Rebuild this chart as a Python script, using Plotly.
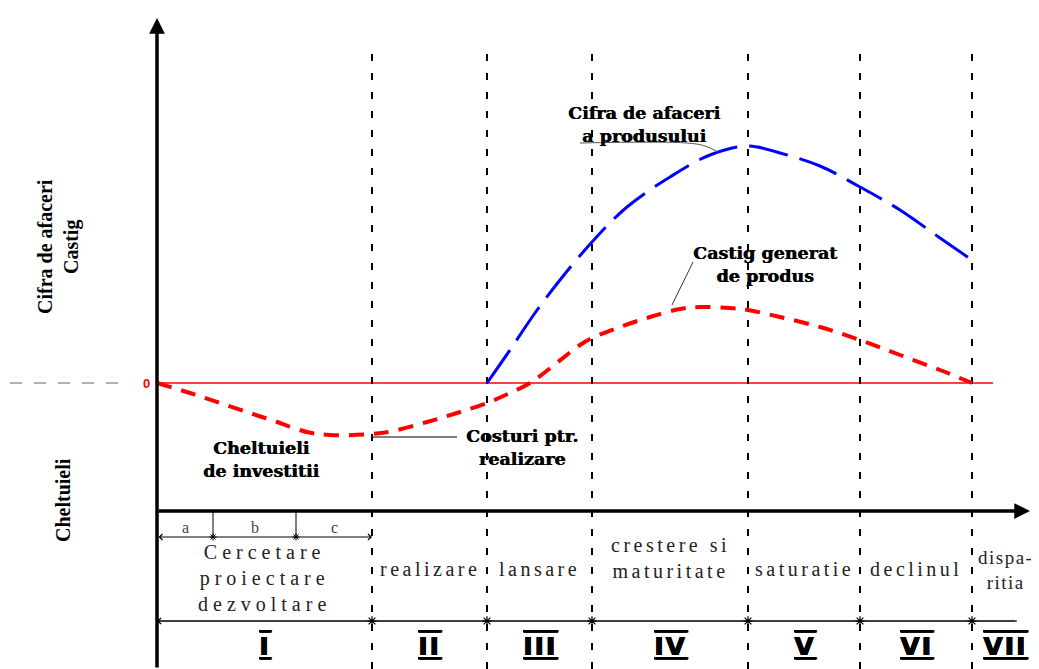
import plotly.graph_objects as go

# ---------------- data (x: time units from origin, y: value units, 0 = break-even) -------------
phase_bounds = [0, 215, 330, 435, 591, 703, 815]
phase_end = 880
sub_bounds = [56, 139]
sub_labels = ["a", "b", "c"]
phase_names = ["Cercetare<br>proiectare<br>dezvoltare", "realizare", "lansare",
               "crestere si<br>maturitate", "saturatie", "declinul", "dispa-<br>ritia"]
roman = ["I", "II", "III", "IV", "V", "VI", "VII"]

# Cifra de afaceri a produsului (blue)
ca_x = [330, 353, 378, 403, 435, 470, 513, 553, 591, 623, 663, 703, 743, 783, 815]
ca_y = [0, 33, 70, 103, 141, 176, 206, 228, 237, 230, 217, 196, 173, 145, 123]

# Castig / cheltuieli (red)
cg_x = [0, 33, 63, 93, 120, 150, 173, 215, 236, 270, 300, 330, 353, 373, 423, 435,
        463, 493, 523, 543, 573, 591, 623, 663, 703, 743, 783, 815]
cg_y = [0, -10, -20, -30, -39, -49, -52, -51, -48, -39, -30, -20, -10, 0, 38, 45,
        56, 66, 74, 76, 75, 73, 66, 56, 43, 28, 13, 0]

# ---------------- layout constants ----------------
# page body has an 8px margin: plot area starts at (8, 8) in the window
X0, X1 = -149, 882
Y0, Y1 = -286, 375
Y_AXIS_TOP = 365
X_AXIS_Y = -128
X_AXIS_END = 873
SUB_Y = -154
PHASE_LINE_Y = -238
PHASE_LINE_END = 860
VLINE_TOP = 336
ZERO_END = 836

SERIF_B = "DejaVu Serif"
TIMES = "Liberation Serif"

fig = go.Figure()

def line(xs, ys, color, width, dash="solid", shape="linear"):
    fig.add_trace(go.Scatter(x=xs, y=ys, mode="lines", hoverinfo="skip",
                             line=dict(color=color, width=width, dash=dash, shape=shape)))

# gray dashed reference line left of axis
line([-147, -29], [0, 0], "#666666", 1, dash="12px,12px")
# zero line
line([0, ZERO_END], [0, 0], "red", 1.5)

# vertical phase dashed lines
for b in phase_bounds[1:]:
    line([b, b], [Y0, VLINE_TOP], "black", 2, dash="7px,12px")

# sub ticks a/b/c
for b in sub_bounds:
    line([b, b], [X_AXIS_Y, SUB_Y], "black", 1)

# curves
line(ca_x, ca_y, "blue", 3, dash="40px,12px", shape="spline")
line(cg_x, cg_y, "red", 4, dash="15px,10px", shape="spline")

# leader lines
line([423, 530, 548, 561], [240, 240, 237, 231], "#555555", 1, shape="spline")
line([536, 515], [121, 78], "#333333", 1)
line([215, 300], [-54, -54], "black", 1)

# bottom phase line with asterisks
line([0, PHASE_LINE_END], [PHASE_LINE_Y, PHASE_LINE_Y], "black", 1)
fig.add_trace(go.Scatter(x=phase_bounds[1:], y=[PHASE_LINE_Y] * 6, mode="markers", hoverinfo="skip",
                         marker=dict(symbol="asterisk-open", size=8, color="black",
                                     line=dict(color="black", width=1.2))))
fig.add_trace(go.Scatter(x=sub_bounds, y=[SUB_Y] * 2, mode="markers", hoverinfo="skip",
                         marker=dict(symbol="asterisk-open", size=6, color="black",
                                     line=dict(color="black", width=1))))

ann = []
# axes with arrows
ann.append(dict(x=0, y=Y_AXIS_TOP, ax=0, ay=Y0, xref="x", yref="y", axref="x", ayref="y",
                showarrow=True, arrowhead=2, arrowwidth=3.5, arrowsize=0.9, arrowcolor="black", text=""))
ann.append(dict(x=X_AXIS_END, y=X_AXIS_Y, ax=0, ay=X_AXIS_Y, xref="x", yref="y", axref="x", ayref="y",
                showarrow=True, arrowhead=2, arrowwidth=3.5, arrowsize=0.9, arrowcolor="black", text=""))
ann.append(dict(x=0, y=PHASE_LINE_Y, ax=PHASE_LINE_END, ay=PHASE_LINE_Y, xref="x", yref="y", axref="x", ayref="y",
                showarrow=True, arrowhead=4, arrowwidth=1, arrowsize=1.2, arrowcolor="black", text=""))
ann.append(dict(x=phase_bounds[1], y=SUB_Y, ax=0, ay=SUB_Y, xref="x", yref="y", axref="x", ayref="y",
                showarrow=True, arrowhead=4, startarrowhead=4, arrowside="end+start", arrowwidth=1,
                arrowsize=1.2, startarrowsize=1.2, arrowcolor="black", text=""))

def text(x, y, t, size, family, color="black", bold=False, angle=0, shadow="none"):
    ann.append(dict(x=x, y=y, xref="x", yref="y", text=t, showarrow=False, textangle=angle,
                    xanchor="center", yanchor="middle",
                    font=dict(size=size, family=family, color=color, shadow=shadow,
                              weight="bold" if bold else "normal")))

HEAVY = "0.6px 0px 0px black"
# curve labels
text(487, 259, "Cifra de afaceri<br>a produsului", 17.5, SERIF_B, bold=True, shadow=HEAVY)
text(608, 119, "Castig generat<br>de produs", 17.5, SERIF_B, bold=True, shadow=HEAVY)
text(104, -76, "Cheltuieli<br>de investitii", 17.5, SERIF_B, bold=True, shadow=HEAVY)
text(365, -64, "Costuri ptr.<br>realizare", 17.5, SERIF_B, bold=True, shadow=HEAVY)

# y axis labels
text(-99, 136, "Cifra de afaceri<br>Castig", 20, TIMES, bold=True, angle=-90)
text(-94, -117, "Cheltuieli", 20, TIMES, bold=True, angle=-90)
text(-11, 0, "0", 13, "Liberation Sans", color="red", bold=True)

# sub labels a, b, c
sb = [0] + sub_bounds + [phase_bounds[1]]
for i, s in enumerate(sub_labels):
    text((sb[i] + sb[i + 1]) / 2, -144, s, 16, TIMES, color="#444444")

# phase names and roman numerals
pb = phase_bounds + [phase_end]
for i, (nm, rn) in enumerate(zip(phase_names, roman)):
    cx = (pb[i] + pb[i + 1]) / 2
    sp = 5 if i == 0 else (1.5 if i == 6 else 3.5)
    lines = "<br>".join('<span style="letter-spacing:%spx">%s</span>' % (sp, l) for l in nm.split("<br>"))
    yc = -195 if i == 0 else (-175 if i == 3 else (-187 if i == 6 else -186))
    if i == 6:
        cx = 848
    text(cx, yc, lines, 20 if i != 6 else 19, TIMES, color="#222222")
    text((pb[i] + pb[i + 1]) / 2, -263,
         '<span style="text-decoration:overline underline;letter-spacing:2px">%s</span>' % rn,
         25, "DejaVu Sans", bold=True, shadow="0.8px 0px 0px black")

fig.update_layout(
    width=1031, height=661, autosize=False,
    margin=dict(l=0, r=0, t=0, b=0),
    paper_bgcolor="white", plot_bgcolor="white",
    showlegend=False,
    xaxis=dict(range=[X0, X1], visible=False, fixedrange=True),
    yaxis=dict(range=[Y0, Y1], visible=False, fixedrange=True),
    annotations=ann,
)
fig.write_html("out.html")
